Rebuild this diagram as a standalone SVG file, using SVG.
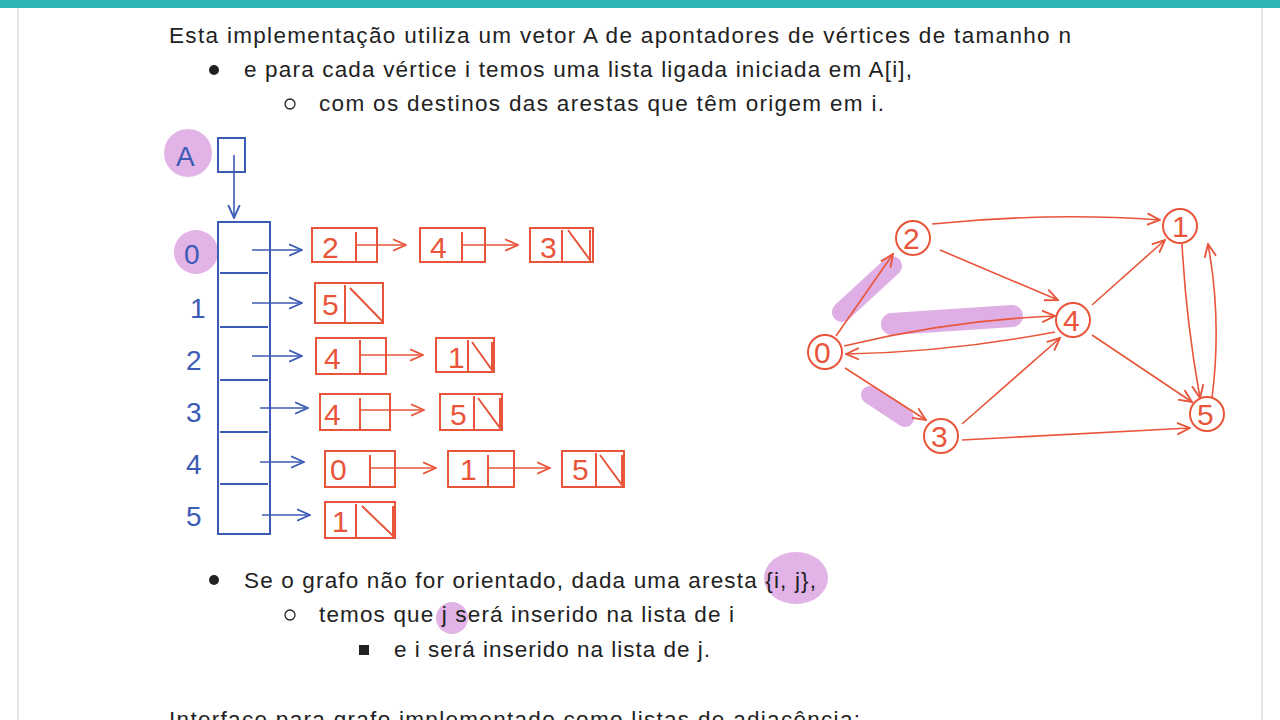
<svg xmlns="http://www.w3.org/2000/svg" width="1280" height="720" viewBox="0 0 1280 720">
<defs>
<marker id="ar" viewBox="0 0 10 10" refX="9" refY="5" markerWidth="9" markerHeight="9" orient="auto"><path d="M0,1 L9,5 L0,9" fill="none" stroke="#e8553a" stroke-width="1.3"/></marker>
<marker id="ab" viewBox="0 0 10 10" refX="9" refY="5" markerWidth="9" markerHeight="9" orient="auto"><path d="M0,1 L9,5 L0,9" fill="none" stroke="#3b5bb5" stroke-width="1.3"/></marker>
</defs>
<style>
.t{font-family:"Liberation Sans",Arial,sans-serif;font-size:22.5px;fill:#222}
.h{font-family:"Liberation Sans",Arial,sans-serif;font-size:30px;fill:#e8553a}
.hb{font-family:"Liberation Sans",Arial,sans-serif;font-size:28px;fill:#3b5bb5}
.r{fill:none;stroke:#e8553a;stroke-width:2}
.b{fill:none;stroke:#3b5bb5;stroke-width:2}
.e{fill:none;stroke:#e8553a;stroke-width:1.6;marker-end:url(#ar)}
.eb{fill:none;stroke:#3b5bb5;stroke-width:1.6;marker-end:url(#ab)}
.pk{fill:#d9a0e0;opacity:0.8}
.pl{stroke:#d9a0e0;stroke-linecap:round;opacity:0.85}
</style>
<rect width="1280" height="720" fill="#fff"/>
<rect width="1280" height="8" fill="#2bb5b5"/>
<line x1="18" y1="8" x2="18" y2="720" stroke="#e6e6e6" stroke-width="2"/>
<line x1="1262" y1="8" x2="1262" y2="720" stroke="#e6e6e6" stroke-width="2"/>
<text class="t" x="169" y="43" textLength="902" lengthAdjust="spacing">Esta implementação utiliza um vetor A de apontadores de vértices de tamanho n</text>
<circle cx="214" cy="70" r="5" fill="#222"/>
<text class="t" x="244" y="77" textLength="668" lengthAdjust="spacing">e para cada vértice i temos uma lista ligada iniciada em A[i],</text>
<circle cx="290" cy="104" r="5" fill="none" stroke="#222" stroke-width="1.3"/>
<text class="t" x="319" y="111" textLength="565" lengthAdjust="spacing">com os destinos das arestas que têm origem em i.</text>
<g id="pointer">
<circle class="pk" cx="188" cy="153" r="24"/>
<text class="hb" x="176" y="166">A</text>
<rect class="b" x="218" y="138" width="27" height="34"/>
<path class="eb" d="M234,155 L234,218"/>
</g>
<g id="array">
<circle class="pk" cx="196" cy="252" r="22"/>
<rect class="b" x="218" y="222" width="52" height="312"/>
<path class="b" d="M220,273H268M220,327H268M220,380H268M220,432H268M220,484H268"/>
<text class="hb" x="184" y="264">0</text><text class="hb" x="190" y="318">1</text>
<text class="hb" x="186" y="370">2</text><text class="hb" x="186" y="422">3</text>
<text class="hb" x="186" y="474">4</text><text class="hb" x="186" y="526">5</text>
<path class="eb" d="M252,250H302"/><path class="eb" d="M252,303H302"/><path class="eb" d="M252,356H302"/>
<path class="eb" d="M260,408H308"/><path class="eb" d="M260,462H304"/><path class="eb" d="M262,515H310"/>
</g>
<g id="lists">
<rect class="r" x="312" y="228" width="65" height="34"/><text class="h" x="322" y="258">2</text><path class="r" d="M356,232V262"/><path class="e" d="M356,245H406"/>
<rect class="r" x="420" y="228" width="65" height="34"/><text class="h" x="430" y="258">4</text><path class="r" d="M462,232V262"/><path class="e" d="M462,245H518"/>
<rect class="r" x="530" y="228" width="63" height="34"/><text class="h" x="540" y="258">3</text><path class="r" d="M562,230V262M568,230L590,260V230"/>
<rect class="r" x="315" y="283" width="68" height="40"/><text class="h" x="322" y="315">5</text><path class="r" d="M345,285V323M350,288L383,322V288"/>
<rect class="r" x="316" y="338" width="70" height="36"/><text class="h" x="324" y="369">4</text><path class="r" d="M360,340V374"/><path class="e" d="M360,355H423"/>
<rect class="r" x="436" y="338" width="58" height="34"/><text class="h" x="448" y="368">1</text><path class="r" d="M468,340V372M472,342L492,370V342"/>
<rect class="r" x="320" y="394" width="70" height="36"/><text class="h" x="324" y="425">4</text><path class="r" d="M360,398V430"/><path class="e" d="M360,410H424"/>
<rect class="r" x="440" y="394" width="62" height="36"/><text class="h" x="450" y="425">5</text><path class="r" d="M474,396V430M478,398L500,428V398"/>
<rect class="r" x="325" y="451" width="70" height="36"/><text class="h" x="330" y="480">0</text><path class="r" d="M370,455V487"/><path class="e" d="M370,468H436"/>
<rect class="r" x="448" y="451" width="66" height="36"/><text class="h" x="460" y="480">1</text><path class="r" d="M488,455V487"/><path class="e" d="M488,468H550"/>
<rect class="r" x="562" y="451" width="62" height="36"/><text class="h" x="572" y="480">5</text><path class="r" d="M596,453V487M600,455L622,485V455"/>
<rect class="r" x="325" y="502" width="70" height="36"/><text class="h" x="332" y="532">1</text><path class="r" d="M356,504V538M362,506L393,536V506"/>
</g>
<g id="highlights">
<line class="pl" x1="842" y1="312" x2="892" y2="266" stroke-width="20"/>
<line class="pl" x1="892" y1="324" x2="1012" y2="316" stroke-width="22"/>
<line class="pl" x1="870" y1="395" x2="905" y2="418" stroke-width="18"/>
</g>
<g id="edges">
<path class="e" d="M836,336L893,254"/>
<path class="e" d="M932,224Q1050,212 1160,220"/>
<path class="e" d="M940,250L1058,300"/>
<path class="e" d="M844,346Q950,320 1055,316"/>
<path class="e" d="M1055,332Q950,352 846,354"/>
<path class="e" d="M845,368L926,420"/>
<path class="e" d="M962,424L1060,338"/>
<path class="e" d="M962,440Q1080,434 1190,428"/>
<path class="e" d="M1092,305L1165,240"/>
<path class="e" d="M1092,335L1192,402"/>
<path class="e" d="M1182,244Q1186,320 1200,398"/>
<path class="e" d="M1212,398Q1222,320 1208,244"/>
</g>
<g id="n0"><circle class="r" cx="825" cy="352" r="17"/><text class="h" x="814" y="363" font-size="26">0</text></g>
<g id="n1"><circle class="r" cx="1180" cy="226" r="17"/><text class="h" x="1172" y="237" font-size="26">1</text></g>
<g id="n2"><circle class="r" cx="913" cy="238" r="17"/><text class="h" x="903" y="249" font-size="26">2</text></g>
<g id="n3"><circle class="r" cx="941" cy="436" r="17"/><text class="h" x="931" y="447" font-size="26">3</text></g>
<g id="n4"><circle class="r" cx="1073" cy="320" r="17"/><text class="h" x="1063" y="331" font-size="26">4</text></g>
<g id="n5"><circle class="r" cx="1207" cy="414" r="17"/><text class="h" x="1197" y="425" font-size="26">5</text></g>
<ellipse class="pk" cx="796" cy="578" rx="32" ry="26"/>
<circle class="pk" cx="452" cy="618" r="16"/>
<circle cx="214" cy="580" r="5" fill="#222"/>
<text class="t" x="244" y="588" textLength="572" lengthAdjust="spacing">Se o grafo não for orientado, dada uma aresta {i, j},</text>
<circle cx="290" cy="615" r="5" fill="none" stroke="#222" stroke-width="1.3"/>
<text class="t" x="319" y="622" textLength="415" lengthAdjust="spacing">temos que j será inserido na lista de i</text>
<rect x="359" y="645" width="10" height="10" fill="#222"/>
<text class="t" x="394" y="657" textLength="316" lengthAdjust="spacing">e i será inserido na lista de j.</text>
<text class="t" x="169" y="727" textLength="691" lengthAdjust="spacing">Interface para grafo implementado como listas de adjacência:</text>
</svg>
